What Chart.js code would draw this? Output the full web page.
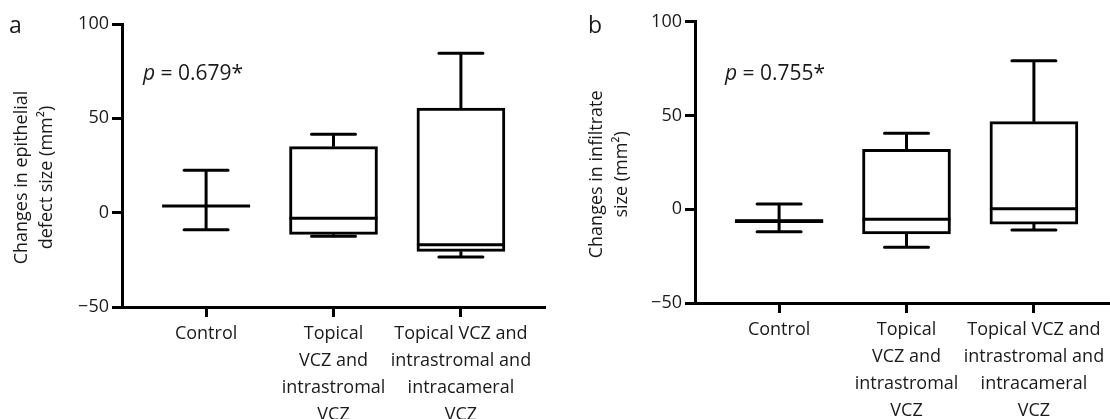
<!DOCTYPE html>
<html>
<head>
<meta charset="utf-8">
<script src="https://cdn.jsdelivr.net/npm/chart.js@4/dist/chart.umd.min.js"></script>
<style>
  html, body { margin: 0; padding: 0; background: #fff; overflow: hidden; }
  #wrap { position: relative; width: 1110px; height: 419px; overflow: hidden; }
  .panel { position: absolute; top: 0; width: 573px; height: 419px; }
</style>
</head>
<body>
<div id="wrap">
  <div class="panel" style="left:0"><canvas id="chart-a" width="573" height="419"></canvas></div>
  <div class="panel" style="left:573px"><canvas id="chart-b" width="573" height="419"></canvas></div>
</div>
<script>
  "use strict";

  // Data
  // --------------------------------------------------
  var categories = [
    ["Control"],
    ["Topical", "VCZ and", "intrastromal", "VCZ"],
    ["Topical VCZ and", "intrastromal and", "intracameral", "VCZ"]
  ];
  var yTicks = [-50, 0, 50, 100];

  // a - epithelial defect size
  var defectMin    = [-9, -12.5, -23.5];
  var defectQ1     = [3.5, -11.5, -20.5];
  var defectMedian = [3.5, -3, -17];
  var defectQ3     = [3.5, 35, 55.5];
  var defectMax    = [22.5, 41.5, 84.5];

  // b - infiltrate size
  var infilMin    = [-12, -20.3, -11.1];
  var infilQ1     = [-7.2, -13.2, -7.9];
  var infilMedian = [-6.2, -5.4, 0.3];
  var infilQ3     = [-5.6, 31.9, 46.7];
  var infilMax    = [2.8, 40.5, 79.2];

  var FONT = "'Open Sans', 'DejaVu Sans', sans-serif";
  var TEXT = "#1a1a1a";

  // Whiskers, caps and medians - drawn through the chart scales
  // --------------------------------------------------
  var boxWhiskers = {
    id: 'boxWhiskers',
    afterDatasetsDraw: function(chart, args, opts) {
      var ctx = chart.ctx, y = chart.scales.y;
      var bars = chart.getDatasetMeta(0).data;
      ctx.save();
      ctx.strokeStyle = "#000";
      ctx.lineWidth = 3;
      bars.forEach(function(bar, i) {
        var cx = bar.x, half = bar.width / 2, cap = half / 2;
        var yMin = y.getPixelForValue(opts.min[i]);
        var yMax = y.getPixelForValue(opts.max[i]);
        var yQ1 = y.getPixelForValue(opts.q1[i]);
        var yQ3 = y.getPixelForValue(opts.q3[i]);
        var yMed = y.getPixelForValue(opts.median[i]);
        ctx.beginPath();
        ctx.moveTo(cx, yQ3); ctx.lineTo(cx, yMax);
        ctx.moveTo(cx, yQ1); ctx.lineTo(cx, yMin);
        ctx.stroke();
        ctx.beginPath();
        ctx.lineCap = 'round';
        ctx.moveTo(cx - cap, yMax); ctx.lineTo(cx + cap, yMax);
        ctx.moveTo(cx - cap, yMin); ctx.lineTo(cx + cap, yMin);
        ctx.stroke();
        ctx.lineCap = 'butt';
        ctx.beginPath();
        ctx.moveTo(cx - half, yMed); ctx.lineTo(cx + half, yMed);
        ctx.stroke();
      });
      ctx.restore();
    }
  };

  // Panel letter, p value and y title
  // --------------------------------------------------
  var panelText = {
    id: 'panelText',
    afterDraw: function(chart, args, opts) {
      var ctx = chart.ctx, area = chart.chartArea;
      ctx.save();
      ctx.fillStyle = TEXT;
      ctx.textBaseline = 'alphabetic';
      ctx.textAlign = 'left';
      ctx.font = "23px " + FONT;
      ctx.fillText(opts.letter, opts.letterX, 33);

      ctx.font = "italic 21px " + FONT;
      ctx.fillText("p", opts.pX, 80);
      var w = ctx.measureText("p").width;
      ctx.font = "21px " + FONT;
      ctx.fillText(" = " + opts.pValue, opts.pX + w, 80);

      var cy = (area.top + area.bottom) / 2 + 12;
      ctx.translate(opts.titleX, cy);
      ctx.rotate(-Math.PI / 2);
      ctx.textAlign = 'center';
      ctx.textBaseline = 'middle';
      ctx.font = "18px " + FONT;
      opts.title.forEach(function(line, k) {
        ctx.fillText(line, 0, k * 25);
      });
      ctx.restore();
    }
  };

  function boxChart(id, stats, text, top, bottom) {
    var el = document.getElementById(id).getContext('2d');
    return new Chart(el, {
      type: 'bar',
      data: {
        datasets: [{
          data: categories.map(function(c, i) {
            return { x: i + 1, y: [stats.q1[i], stats.q3[i]] };
          }),
          backgroundColor: "#fff",
          borderColor: "#000",
          borderWidth: 3,
          borderSkipped: false,
          barThickness: 88
        }]
      },
      plugins: [boxWhiskers, panelText],
      options: {
        responsive: false,
        animation: false,
        layout: { padding: { top: top, right: 28, left: 0, bottom: 0 } },
        plugins: {
          legend: { display: false },
          tooltip: { enabled: false },
          boxWhiskers: stats,
          panelText: text
        },
        scales: {
          x: {
            type: 'linear',
            min: 0.34,
            max: 3.66,
            offset: false,
            afterFit: function(scale) { scale.height = 419 - bottom; },
            afterBuildTicks: function(scale) {
              scale.ticks = categories.map(function(c, i) { return { value: i + 1 }; });
            },
            ticks: {
              color: TEXT,
              padding: 3,
              maxRotation: 0,
              autoSkip: false,
              font: { family: FONT, size: 18, lineHeight: 1.5 },
              callback: function(v) { return categories[v - 1]; }
            },
            grid: { offset: false, drawOnChartArea: false, drawTicks: true, tickLength: 10, tickWidth: 3, tickColor: "#000" },
            border: { display: true, color: "#000", width: 3 }
          },
          y: {
            min: -50,
            max: 100,
            afterFit: function(scale) { scale.width = 122; },
            afterBuildTicks: function(scale) {
              scale.ticks = yTicks.map(function(v) { return { value: v }; });
            },
            ticks: {
              color: TEXT,
              padding: 3,
              font: { family: FONT, size: 18 },
              callback: function(v) { return v < 0 ? "\u2212" + Math.abs(v) : String(v); }
            },
            grid: { drawOnChartArea: false, drawTicks: true, tickLength: 10, tickWidth: 3, tickColor: "#000" },
            border: { display: true, color: "#000", width: 3 }
          }
        }
      }
    });
  }

  var chartA = boxChart('chart-a',
    { min: defectMin, q1: defectQ1, median: defectMedian, q3: defectQ3, max: defectMax },
    { letter: "a", letterX: 9, pX: 143, pValue: "0.679*", titleX: 22,
      title: ["Changes in epithelial", "defect size (mm\u00b2)"] },
    24, 307);

  var chartB = boxChart('chart-b',
    { min: infilMin, q1: infilQ1, median: infilMedian, q3: infilQ3, max: infilMax },
    { letter: "b", letterX: 15, pX: 152, pValue: "0.755*", titleX: 24,
      title: ["Changes in infiltrate", "size (mm\u00b2)"] },
    21.7, 303);
</script>
</body>
</html>
